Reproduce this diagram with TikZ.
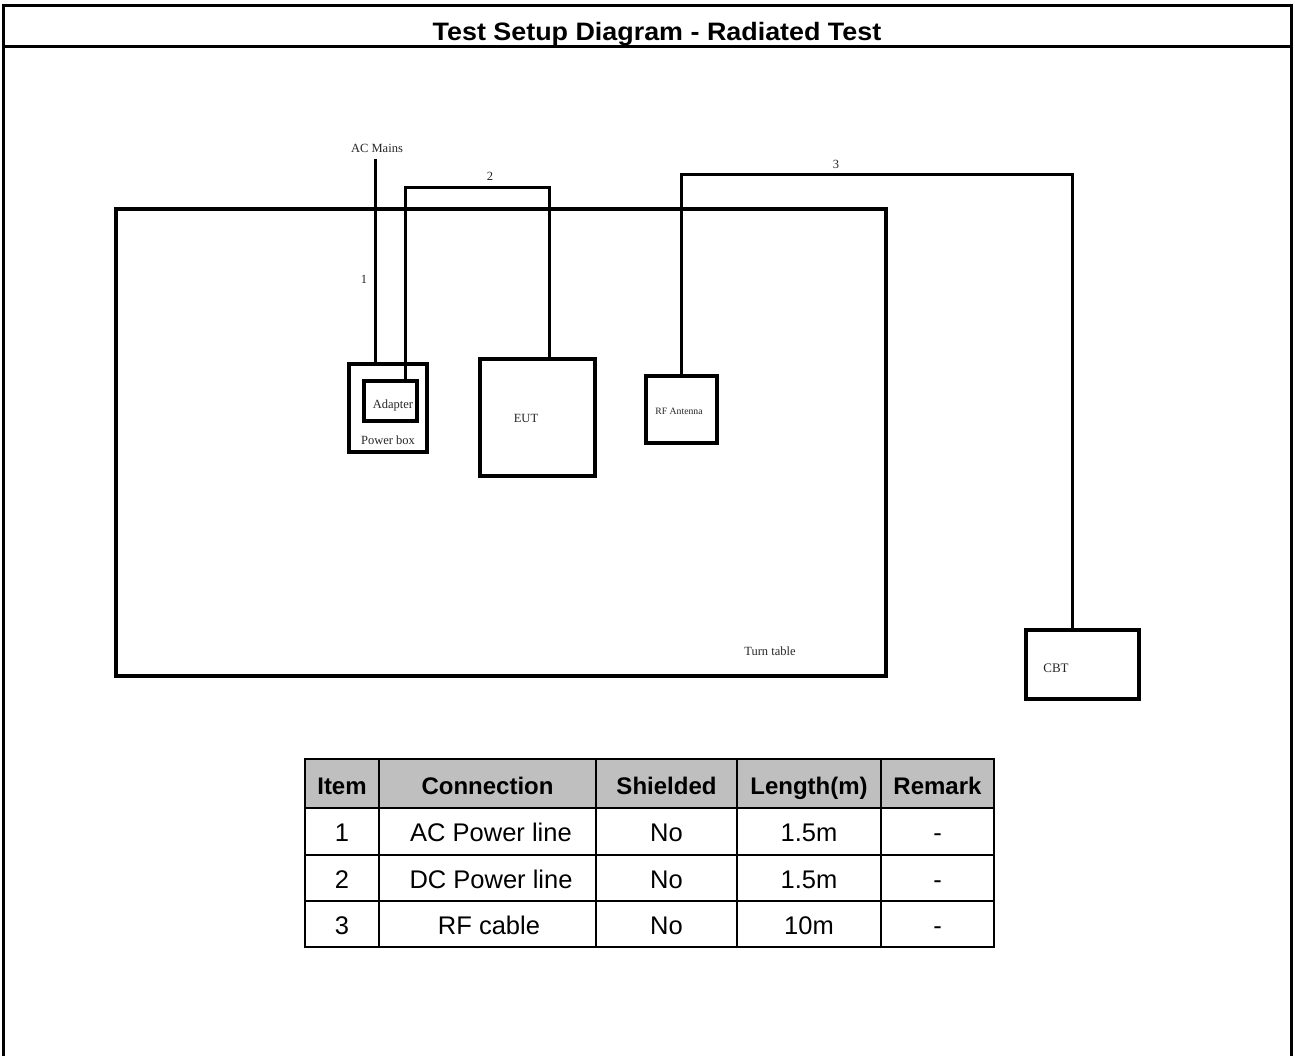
\documentclass[tikz,border=0pt]{standalone}
\usepackage{fontspec}
\setmainfont{Liberation Serif}
\newfontfamily\arialf{Liberation Sans}
\begin{document}
\begin{tikzpicture}[x=1pt,y=-1pt,
  frameline/.style={line width=3pt},
  box/.style={draw, line width=3.5pt, inner sep=0pt},
  cable/.style={line width=3pt},
  lbl/.style={font=\fontsize{12.5}{14}\selectfont, text=black!85, inner sep=0pt},
  cell/.style={font=\arialf\fontsize{25.5}{28}\selectfont, inner sep=0pt, anchor=base},
  hcell/.style={font=\arialf\bfseries\fontsize{24}{28}\selectfont, inner sep=0pt, anchor=base},
  tline/.style={line width=2pt}]
\useasboundingbox (0,0) rectangle (1295,1056);
\fill[white] (0,0) rectangle (1295,1056);
% outer frame
\draw[frameline] (3.5,1056) -- (3.5,5.5) -- (1291.5,5.5) -- (1291.5,1056);
\draw[frameline] (3.5,47) -- (1291.5,47);
\node[font=\arialf\bfseries\fontsize{24}{28}\selectfont, xscale=1.12, yscale=1.05, inner sep=0pt, anchor=base] (title) at (657,40.5) {Test Setup Diagram - Radiated Test};
% turn table
\node[box, minimum width=770, minimum height=467] (tt) at (501,442.5) {};
\node[lbl] (ttl) at (770,651) {Turn table};
% power box and adapter
\node[box, minimum width=78, minimum height=88] (pb) at (388,408) {};
\node[box, minimum width=53, minimum height=40] (adp) at (390.5,401) {};
\node[lbl] (adpl) at (393,405) {Adapter};
\node[lbl] (pbl) at (388,440) {Power box};
% EUT
\node[box, minimum width=115, minimum height=117] (eut) at (537.5,417.5) {};
\node[lbl] (eutl) at (526,418) {EUT};
% RF antenna
\node[box, minimum width=71, minimum height=67] (rfa) at (681.5,409.5) {};
\node[lbl, font=\fontsize{9.7}{11}\selectfont] (rfal) at (679,411) {RF Antenna};
% CBT
\node[box, minimum width=113, minimum height=69] (cbt) at (1082.5,664.5) {};
\node[lbl, font=\fontsize{13}{15}\selectfont] (cbtl) at (1056,668) {CBT};
% cables
\node[lbl] (acm) at (377,148) {AC Mains};
\coordinate (acin) at (375,159);
\draw[cable] (acin) -- (acin |- pb.north);
\node[lbl] (n1) at (364,279) {1};
\coordinate (c2top) at (477,188);
\draw[cable] ([xshift=14.5pt]adp.north) |- (c2top) -| ([xshift=11.5pt]eut.north);
\node[lbl] (n2) at (490,176) {2};
\coordinate (c3top) at (877,175);
\draw[cable] (rfa.north) |- (c3top) -| ([xshift=-10.5pt]cbt.north);
\node[lbl] (n3) at (836,164) {3};
% table
\fill[black!25] (305,759) rectangle (994,808);
\draw[tline, line width=2.5pt] (305,759) rectangle (994,947);
\foreach \y in {808,855,901} \draw[tline] (305,\y) -- (994,\y);
\foreach \x in {379,596,737,881} \draw[tline] (\x,759) -- (\x,947);
\node[hcell] (h1) at (342,794.5) {Item};
\node[hcell] (h2) at (487.5,794.5) {Connection};
\node[hcell] (h3) at (666.5,794.5) {Shielded};
\node[hcell] (h4) at (809,794.5) {Length(m)};
\node[hcell] (h5) at (937.5,794.5) {Remark};
\node[cell] (r11) at (342,841) {1};
\node[cell] (r12) at (491,841) {AC Power line};
\node[cell] (r13) at (666.5,841) {No};
\node[cell] (r14) at (809,841) {1.5m};
\node[cell] (r15) at (937.5,841) {-};
\node[cell] (r21) at (342,888) {2};
\node[cell] (r22) at (491,888) {DC Power line};
\node[cell] (r23) at (666.5,888) {No};
\node[cell] (r24) at (809,888) {1.5m};
\node[cell] (r25) at (937.5,888) {-};
\node[cell] (r31) at (342,934) {3};
\node[cell] (r32) at (489,934) {RF cable};
\node[cell] (r33) at (666.5,934) {No};
\node[cell] (r34) at (809,934) {10m};
\node[cell] (r35) at (937.5,934) {-};
\end{tikzpicture}
\end{document}
